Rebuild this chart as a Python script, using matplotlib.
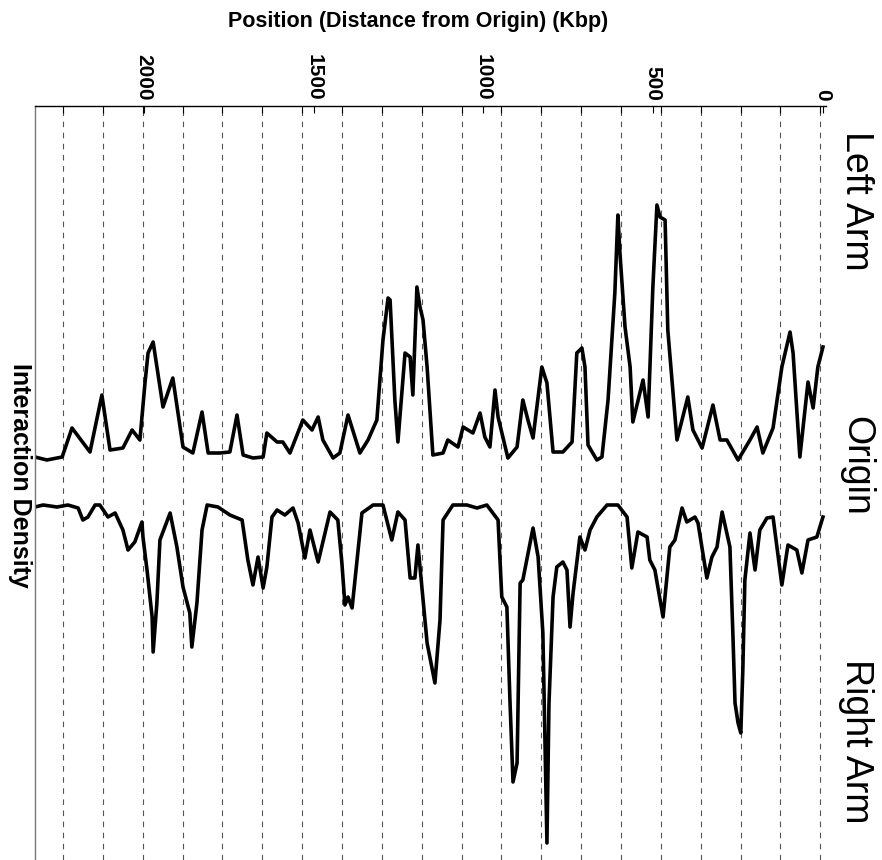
import numpy as np
import matplotlib.pyplot as plt

# ============================================================
#  DATA - position in Kbp from origin
# ============================================================
left_kbp = [2321, 2286, 2241, 2212, 2159, 2124, 2100, 2062, 2035, 2012,
            1997, 1988, 1973, 1944, 1915, 1885, 1856, 1829, 1811, 1776,
            1747, 1726, 1708, 1679, 1649, 1638, 1608, 1591, 1570, 1532,
            1505, 1487, 1473, 1443, 1423, 1399, 1364, 1340, 1314, 1296,
            1281, 1275, 1261, 1252, 1231, 1216, 1208, 1196, 1187, 1178,
            1166, 1149, 1119, 1105, 1075, 1060, 1031, 1010, 996, 981,
            966, 957, 928, 901, 884, 869, 854, 828, 813, 795,
            766, 739, 725, 710, 701, 692, 666, 651, 633, 613,
            604, 598, 583, 568, 560, 530, 515, 501, 489, 480,
            465, 457, 430, 398, 383, 356, 324, 303, 283, 250,
            215, 194, 177, 147, 121, 97, 88, 68, 44, 29,
            15, 0]
left_density = [0.05, 0.02, 0.05, 0.34, 0.10, 0.67, 0.12, 0.14, 0.32, 0.22,
                0.79, 1.09, 1.20, 0.55, 0.84, 0.15, 0.09, 0.50, 0.09, 0.09,
                0.10, 0.47, 0.07, 0.04, 0.05, 0.29, 0.20, 0.20, 0.09, 0.42,
                0.32, 0.45, 0.22, 0.04, 0.09, 0.47, 0.09, 0.22, 0.42, 1.22,
                1.64, 1.62, 0.62, 0.20, 1.09, 1.05, 0.67, 1.75, 1.55, 1.42,
                0.95, 0.07, 0.09, 0.22, 0.15, 0.35, 0.29, 0.49, 0.25, 0.15,
                0.72, 0.45, 0.04, 0.15, 0.62, 0.42, 0.24, 0.95, 0.79, 0.10,
                0.10, 0.20, 1.09, 1.14, 0.95, 0.17, 0.02, 0.05, 0.62, 1.69,
                2.47, 2.09, 1.35, 0.95, 0.40, 0.82, 0.45, 1.75, 2.57, 2.45,
                2.42, 1.32, 0.22, 0.65, 0.32, 0.14, 0.57, 0.22, 0.22, 0.02,
                0.22, 0.35, 0.09, 0.34, 0.95, 1.30, 1.09, 0.05, 0.80, 0.54,
                0.95, 1.15]

right_kbp = [2321, 2297, 2256, 2224, 2194, 2180, 2165, 2144, 2130, 2106,
             2085, 2062, 2047, 2027, 2006, 2003, 1991, 1976, 1973, 1962,
             1953, 1923, 1903, 1885, 1865, 1859, 1844, 1829, 1814, 1782,
             1747, 1711, 1694, 1679, 1664, 1649, 1638, 1623, 1608, 1585,
             1561, 1546, 1526, 1511, 1487, 1452, 1429, 1417, 1408, 1399,
             1387, 1358, 1325, 1296, 1270, 1252, 1231, 1216, 1202, 1193,
             1178, 1166, 1143, 1128, 1119, 1090, 1049, 1019, 990, 957,
             946, 931, 922, 913, 901, 892, 884, 854, 839, 825,
             813, 807, 795, 784, 766, 754, 745, 736, 716, 701,
             686, 666, 636, 604, 577, 563, 545, 518, 510, 495,
             471, 451, 436, 415, 401, 377, 368, 342, 327, 312,
             297, 274, 265, 259, 250, 242, 236, 230, 215, 200,
             186, 165, 147, 121, 103, 77, 62, 44, 18, 0]
right_density = [0.02, 0.00, 0.02, 0.00, 0.03, 0.15, 0.12, 0.00, 0.00, 0.12,
                 0.08, 0.25, 0.45, 0.37, 0.17, 0.32, 0.65, 1.12, 1.47, 0.98,
                 0.35, 0.08, 0.42, 0.82, 1.08, 1.42, 0.98, 0.25, 0.00, 0.02,
                 0.10, 0.15, 0.55, 0.80, 0.52, 0.83, 0.62, 0.12, 0.05, 0.10,
                 0.03, 0.18, 0.53, 0.25, 0.57, 0.07, 0.15, 0.58, 1.00, 0.92,
                 1.03, 0.08, 0.00, 0.00, 0.35, 0.07, 0.15, 0.73, 0.73, 0.40,
                 0.95, 1.38, 1.78, 1.15, 0.15, 0.00, 0.00, 0.03, 0.00, 0.15,
                 0.92, 1.02, 1.95, 2.77, 2.58, 0.78, 0.75, 0.23, 0.52, 1.28,
                 3.38, 1.98, 0.92, 0.62, 0.57, 0.65, 1.22, 0.88, 0.32, 0.45,
                 0.25, 0.12, 0.00, 0.00, 0.12, 0.63, 0.27, 0.32, 0.55, 0.65,
                 1.12, 0.42, 0.35, 0.03, 0.17, 0.12, 0.18, 0.73, 0.52, 0.42,
                 0.07, 0.42, 1.32, 1.98, 2.18, 2.28, 1.65, 0.75, 0.28, 0.65,
                 0.25, 0.13, 0.12, 0.80, 0.40, 0.45, 0.68, 0.35, 0.32, 0.12]

tick_kbp = [0, 500, 1000, 1500, 2000]
tick_labels = ['0', '500', '1000', '1500', '2000']

# ============================================================
#  PLOT
# ============================================================
plt.rcParams['font.family'] = ['Liberation Sans', 'DejaVu Sans']

W, H = 882, 860
fig = plt.figure(figsize=(W / 100, H / 100), dpi=100)
ax = fig.add_axes([35 / W, 0, (826 - 35) / W, (H - 106) / H])

BASE_UP, BASE_DN = 0.21, 0.22
up = BASE_UP + np.array(left_density)
dn = -(BASE_DN + np.array(right_density))

ax.plot(left_kbp, up, color='black', lw=2.6, solid_joinstyle='round')
ax.plot(right_kbp, dn, color='black', lw=2.6, solid_joinstyle='round')

ax.set_xlim(2321, -9)
ax.set_ylim(-3.77, 3.77)

# dashed grid every ~117 Kbp
grid_kbp = 8 + 117.4 * np.arange(20)
for g in grid_kbp:
    ax.axvline(g, color='#555555', lw=0.8, ls=(0, (5, 5)), zorder=0)

ax.xaxis.tick_top()
ax.set_xticks(tick_kbp)
ax.set_xticklabels(tick_labels, rotation=270, fontsize=15, fontweight='bold',
                   va='bottom', ha='center')
ax.set_xticks(grid_kbp, minor=True)
ax.tick_params(axis='x', which='both', direction='in', length=5, width=0.8, pad=4)
ax.set_yticks([])

for s in ['right', 'bottom']:
    ax.spines[s].set_visible(False)
ax.spines['top'].set_linewidth(1.0)
ax.spines['left'].set_color('#777777')
ax.spines['left'].set_linewidth(1.0)

fig.text(418 / W, 1 - 22 / H, 'Position (Distance from Origin) (Kbp)',
         ha='center', va='center', fontsize=15.5, fontweight='bold')
fig.text(20 / W, 1 - 475 / H, 'Interaction Density', rotation=270,
         ha='center', va='center', fontsize=18, fontweight='bold')
fig.text(856 / W, 1 - 201 / H, 'Left Arm', rotation=270, ha='center', va='center', fontsize=27)
fig.text(856 / W, 1 - 466 / H, 'Origin', rotation=270, ha='center', va='center', fontsize=27)
fig.text(856 / W, 1 - 741 / H, 'Right Arm', rotation=270, ha='center', va='center', fontsize=27)

fig.savefig('out.png', dpi=100)
